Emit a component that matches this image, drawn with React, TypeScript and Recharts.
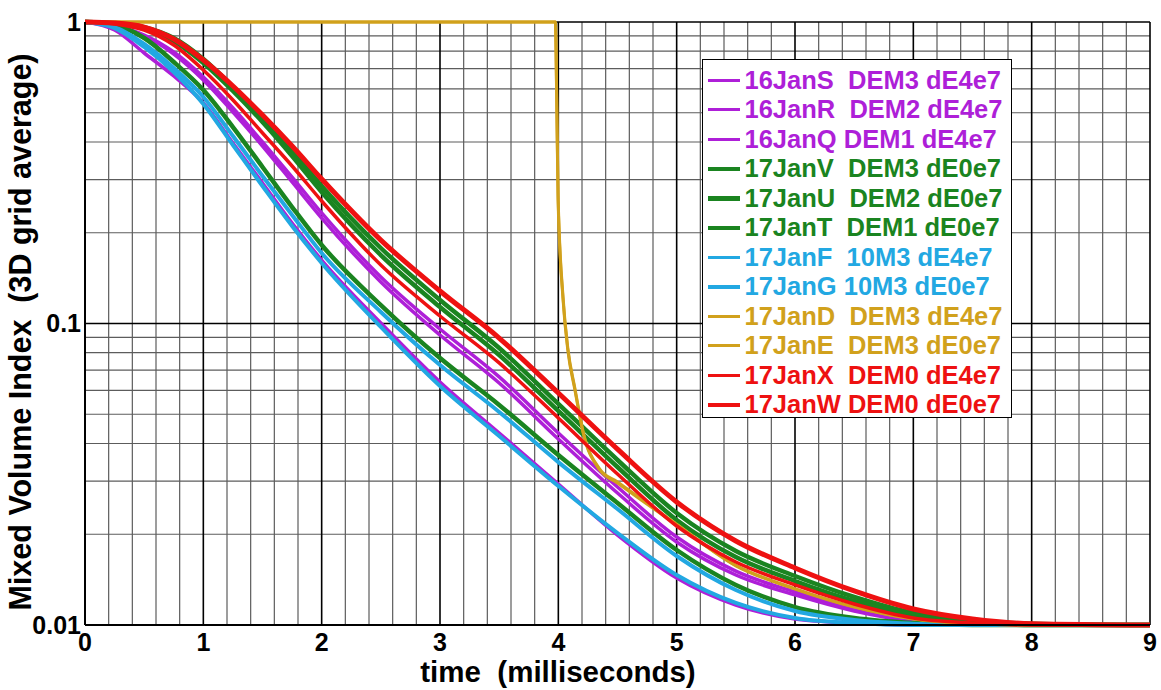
import React from 'react';
import { LineChart, Line, XAxis, YAxis, CartesianGrid, Legend } from 'recharts';

// ---- time axes (milliseconds) ----
const TIME = [0, 0.25, 0.5, 0.75, 1, 1.25, 1.5, 1.75, 2, 2.5, 3, 3.5, 4, 4.5, 5, 5.5, 6, 6.5, 7, 7.5, 8, 9];
const GOLD_TIME = [0, 3.975, 3.985, 3.998, 4.04, 4.08, 4.14, 4.21, 4.35, 4.5, 4.7, 5.0, 5.5, 6.0, 6.5, 7.0, 7.5, 8.0, 9.0];

// ---- series values (Mixed Volume Index) ----
const JAN16S = [1, 0.9699, 0.9055, 0.7955, 0.657, 0.5186, 0.3999, 0.3061, 0.2326, 0.1427, 0.0959, 0.0665, 0.04333, 0.02869, 0.01958, 0.0151, 0.01287, 0.0113, 0.01039, 0.0101, 0.01, 0.01];
const JAN16R = [1, 0.9662, 0.8986, 0.7832, 0.6422, 0.5028, 0.3879, 0.2947, 0.2238, 0.1374, 0.0916, 0.0635, 0.0414, 0.0274, 0.01885, 0.01465, 0.01258, 0.01113, 0.01031, 0.0101, 0.01, 0.01];
const JAN16Q = [1, 0.9407, 0.7892, 0.662, 0.5387, 0.3969, 0.2924, 0.2154, 0.1624, 0.1004, 0.064, 0.04333, 0.02936, 0.01988, 0.01432, 0.01165, 0.01047, 0.01015, 0.01, 0.01, 0.01, 0.01];
const JAN17V = [1, 0.992, 0.962, 0.885, 0.754, 0.6087, 0.4803, 0.3735, 0.2858, 0.178, 0.1197, 0.0829, 0.0541, 0.03526, 0.02352, 0.01759, 0.01454, 0.01239, 0.01096, 0.01031, 0.0101, 0.01];
const JAN17U = [1, 0.9886, 0.955, 0.865, 0.731, 0.5905, 0.4659, 0.3594, 0.273, 0.1687, 0.1134, 0.0786, 0.0513, 0.03342, 0.0223, 0.0168, 0.01399, 0.01201, 0.01079, 0.01023, 0.01, 0.01];
const JAN17T = [1, 0.9773, 0.885, 0.7368, 0.595, 0.4484, 0.3304, 0.2434, 0.1821, 0.1151, 0.0768, 0.0537, 0.03663, 0.02539, 0.01773, 0.01358, 0.01147, 0.01055, 0.01015, 0.01, 0.01, 0.01];
const JAN17F = [1, 0.962, 0.8453, 0.7036, 0.564, 0.4187, 0.3084, 0.2291, 0.1713, 0.1092, 0.0728, 0.0509, 0.0347, 0.02425, 0.01694, 0.01306, 0.01113, 0.01039, 0.0101, 0.01, 0.01, 0.01];
const JAN17G = [1, 0.955, 0.8262, 0.6826, 0.5346, 0.3908, 0.2858, 0.2106, 0.1588, 0.0974, 0.062, 0.04234, 0.02891, 0.02019, 0.01465, 0.01183, 0.01055, 0.01015, 0.01, 0.01, 0.01, 0.01];
const JAN17D = [1, 1, 0.595, 0.2568, 0.1197, 0.0817, 0.0602, 0.0433, 0.03266, 0.02958, 0.02598, 0.02147, 0.0157, 0.01316, 0.01147, 0.01047, 0.0101, 0.01, 0.01];
const JAN17E = [1, 1, 0.62, 0.265, 0.122, 0.083, 0.061, 0.0437, 0.0329, 0.0298, 0.0262, 0.0216, 0.01578, 0.0132, 0.01149, 0.01048, 0.0101, 0.01, 0.01];
const JAN17X = [1, 0.9849, 0.9407, 0.839, 0.6931, 0.5513, 0.4283, 0.3329, 0.2549, 0.1563, 0.1059, 0.074, 0.0486, 0.03168, 0.0213, 0.01618, 0.01358, 0.01174, 0.01055, 0.01015, 0.01, 0.01];
const JAN17W = [1, 0.992, 0.962, 0.878, 0.748, 0.6134, 0.4914, 0.388, 0.3014, 0.1891, 0.1282, 0.0895, 0.0588, 0.0383, 0.0256, 0.019, 0.01546, 0.01297, 0.0113, 0.01047, 0.0101, 0.01];

// ---- ticks ----
const X_TICKS = [0, 1, 2, 3, 4, 5, 6, 7, 8, 9];
const Y_TICKS = [0.01, 0.1, 1];
const X_MINOR = X_TICKS.slice(0, -1).flatMap((m) => [0.2, 0.4, 0.6, 0.8].map((f) => +(m + f).toFixed(1)));
const Y_MINOR = Y_TICKS.slice(0, -1).flatMap((d) => [2, 3, 4, 5, 6, 7, 8, 9].map((k) => +(d * k).toPrecision(2)));

const MAGENTA = '#AE1FD8';
const GREEN = '#1A8420';
const CYAN = '#22A8E2';
const GOLD = '#D1A11C';
const RED = '#EE1111';

const SERIES = [
  { name: '16JanS  DEM3 dE4e7', color: MAGENTA, width: 3.5, lw: 3, t: TIME, v: JAN16S },
  { name: '16JanR  DEM2 dE4e7', color: MAGENTA, width: 3.5, lw: 3, t: TIME, v: JAN16R },
  { name: '16JanQ DEM1 dE4e7', color: MAGENTA, width: 3.5, lw: 3, t: TIME, v: JAN16Q },
  { name: '17JanV  DEM3 dE0e7', color: GREEN, width: 4.5, lw: 4.5, t: TIME, v: JAN17V },
  { name: '17JanU  DEM2 dE0e7', color: GREEN, width: 4.5, lw: 4.5, t: TIME, v: JAN17U },
  { name: '17JanT  DEM1 dE0e7', color: GREEN, width: 4.5, lw: 4.5, t: TIME, v: JAN17T },
  { name: '17JanF  10M3 dE4e7', color: CYAN, width: 4, lw: 3.5, t: TIME, v: JAN17F },
  { name: '17JanG 10M3 dE0e7', color: CYAN, width: 4, lw: 3.5, t: TIME, v: JAN17G },
  { name: '17JanD  DEM3 dE4e7', color: GOLD, width: 3, lw: 3, t: GOLD_TIME, v: JAN17D },
  { name: '17JanE  DEM3 dE0e7', color: GOLD, width: 3, lw: 3, t: GOLD_TIME, v: JAN17E },
  { name: '17JanX  DEM0 dE4e7', color: RED, width: 3.5, lw: 3, t: TIME, v: JAN17X },
  { name: '17JanW DEM0 dE0e7', color: RED, width: 5, lw: 4.5, t: TIME, v: JAN17W },
];

const FONT = '"Liberation Sans", Arial, Helvetica, sans-serif';
const TITLE_STYLE: React.CSSProperties = { fontFamily: FONT, fontWeight: 700, fill: '#000', whiteSpace: 'pre' };
const TICK_STYLE = { fontFamily: FONT, fontWeight: 700, fontSize: 25, fill: '#000' };

const toPts = (ts: number[], vs: number[]) => ts.map((t, i) => ({ t, v: vs[i] }));

const XTitle = () => (
  <text x={558} y={682} textAnchor="middle" style={{ ...TITLE_STYLE, fontSize: 29.5 }}>
    time  (milliseconds)
  </text>
);

const YTitle = () => (
  <text transform="translate(31,332) rotate(-90)" textAnchor="middle" style={{ ...TITLE_STYLE, fontSize: 30.5 }}>
    Mixed Volume Index  (3D grid average)
  </text>
);

const LegendBox = () => (
  <div
    style={{
      boxSizing: 'border-box',
      width: 310,
      height: 359,
      border: '1.5px solid #000',
      background: '#fff',
      paddingTop: 5.5,
    }}
  >
    {SERIES.map((s) => (
      <div key={s.name} style={{ display: 'flex', alignItems: 'center', height: 29.5 }}>
        <div style={{ marginLeft: 4.5, width: 32, height: s.lw, background: s.color }} />
        <span
          style={{
            marginLeft: 5,
            color: s.color,
            fontFamily: FONT,
            fontWeight: 700,
            fontSize: 25.5,
            lineHeight: '29.5px',
            whiteSpace: 'pre',
          }}
        >
          {s.name}
        </span>
      </div>
    ))}
  </div>
);

export default function App() {
  return (
    <div style={{ position: 'absolute', left: 0, top: 0, width: 1161, height: 690, background: '#fff' }}>
      <LineChart width={1161} height={690} margin={{ top: 22, right: 11, bottom: 0, left: 0 }}>
        <CartesianGrid
          horizontalValues={Y_MINOR}
          verticalValues={X_MINOR}
          stroke="#5c5c5c"
          strokeWidth={1.2}
          fill="none"
        />
        <CartesianGrid
          horizontalValues={Y_TICKS}
          verticalValues={X_TICKS}
          stroke="#000"
          strokeWidth={1.6}
          fill="none"
        />
        <XAxis
          dataKey="t"
          type="number"
          domain={[0, 9]}
          ticks={X_TICKS}
          interval={0}
          height={65}
          tickSize={0}
          tickLine={false}
          tickMargin={8}
          tick={TICK_STYLE}
          axisLine={{ stroke: '#000', strokeWidth: 2 }}
          label={<XTitle />}
        />
        <YAxis
          scale="log"
          domain={[0.01, 1]}
          ticks={Y_TICKS}
          interval={0}
          width={85}
          tickSize={0}
          tickLine={false}
          tickMargin={4}
          tick={TICK_STYLE}
          tickFormatter={(v: number) => String(v)}
          axisLine={{ stroke: '#000', strokeWidth: 2 }}
          label={<YTitle />}
        />
        <Legend
          layout="vertical"
          align="center"
          verticalAlign="middle"
          content={<LegendBox />}
          wrapperStyle={{ left: 702, top: 59, width: 310, height: 359 }}
        />
        {SERIES.map((s) => (
          <Line
            key={s.name}
            data={toPts(s.t, s.v)}
            dataKey="v"
            name={s.name}
            type="monotone"
            stroke={s.color}
            strokeWidth={s.width}
            strokeLinejoin="round"
            dot={false}
            activeDot={false}
            isAnimationActive={false}
          />
        ))}
      </LineChart>
    </div>
  );
}
